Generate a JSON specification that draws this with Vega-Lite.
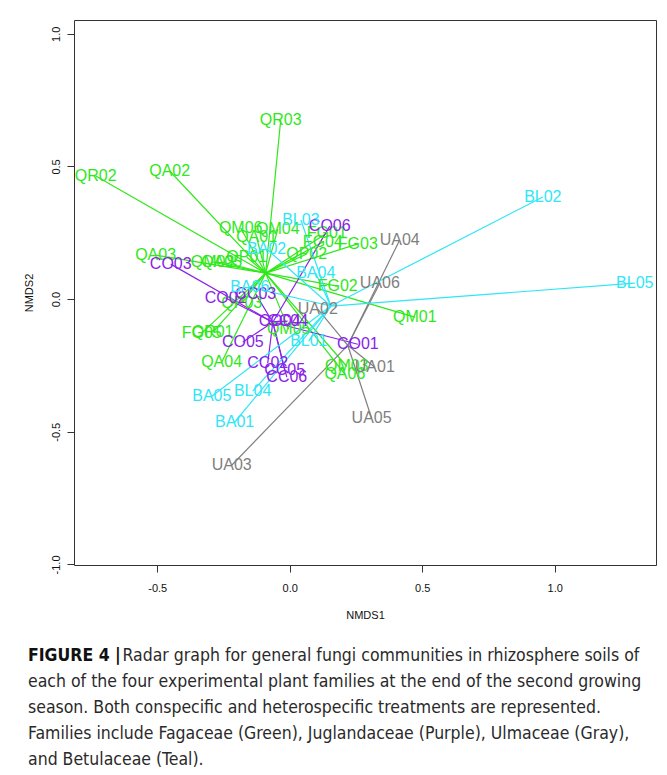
{
  "$schema": "https://vega.github.io/schema/vega-lite/v6.json",
  "width": 582,
  "height": 545,
  "autosize": {"type": "none"},
  "padding": {"left": 74, "top": 20, "right": 11, "bottom": 210},
  "background": "white",
  "config": {
    "view": {"stroke": "#333333", "strokeWidth": 1},
    "font": "Liberation Sans"
  },
  "data": {
    "values": [
      {"label": "QR03", "family": "Fagaceae", "x": -0.034, "y": 0.675, "cx": -0.091, "cy": 0.098},
      {"label": "QA02", "family": "Fagaceae", "x": -0.453, "y": 0.483, "cx": -0.091, "cy": 0.098},
      {"label": "QR02", "family": "Fagaceae", "x": -0.732, "y": 0.464, "cx": -0.091, "cy": 0.098},
      {"label": "QM06", "family": "Fagaceae", "x": -0.185, "y": 0.268, "cx": -0.091, "cy": 0.098},
      {"label": "QM04", "family": "Fagaceae", "x": -0.045, "y": 0.264, "cx": -0.091, "cy": 0.098},
      {"label": "QA01", "family": "Fagaceae", "x": -0.125, "y": 0.234, "cx": -0.091, "cy": 0.098},
      {"label": "QA03", "family": "Fagaceae", "x": -0.506, "y": 0.166, "cx": -0.091, "cy": 0.098},
      {"label": "QM02", "family": "Fagaceae", "x": -0.291, "y": 0.140, "cx": -0.091, "cy": 0.098},
      {"label": "QA05", "family": "Fagaceae", "x": -0.257, "y": 0.140, "cx": -0.091, "cy": 0.098},
      {"label": "QP01", "family": "Fagaceae", "x": -0.162, "y": 0.158, "cx": -0.091, "cy": 0.098},
      {"label": "QP02", "family": "Fagaceae", "x": 0.064, "y": 0.170, "cx": -0.091, "cy": 0.098},
      {"label": "FG01", "family": "Fagaceae", "x": 0.140, "y": 0.249, "cx": -0.091, "cy": 0.098},
      {"label": "FG04", "family": "Fagaceae", "x": 0.125, "y": 0.215, "cx": -0.091, "cy": 0.098},
      {"label": "FG03", "family": "Fagaceae", "x": 0.257, "y": 0.208, "cx": -0.091, "cy": 0.098},
      {"label": "FG02", "family": "Fagaceae", "x": 0.181, "y": 0.049, "cx": -0.091, "cy": 0.098},
      {"label": "QM01", "family": "Fagaceae", "x": 0.472, "y": -0.068, "cx": -0.091, "cy": 0.098},
      {"label": "QP03", "family": "Fagaceae", "x": -0.181, "y": -0.015, "cx": -0.091, "cy": 0.098},
      {"label": "QM05", "family": "Fagaceae", "x": -0.004, "y": -0.113, "cx": -0.091, "cy": 0.098},
      {"label": "FG05", "family": "Fagaceae", "x": -0.332, "y": -0.128, "cx": -0.091, "cy": 0.098},
      {"label": "QR01", "family": "Fagaceae", "x": -0.291, "y": -0.125, "cx": -0.091, "cy": 0.098},
      {"label": "QA04", "family": "Fagaceae", "x": -0.257, "y": -0.238, "cx": -0.091, "cy": 0.098},
      {"label": "QM03", "family": "Fagaceae", "x": 0.215, "y": -0.253, "cx": -0.091, "cy": 0.098},
      {"label": "QA06", "family": "Fagaceae", "x": 0.208, "y": -0.283, "cx": -0.091, "cy": 0.098},
      {"label": "CO01", "family": "Juglandaceae", "x": 0.257, "y": -0.170, "cx": -0.064, "cy": -0.087},
      {"label": "CO02", "family": "Juglandaceae", "x": -0.242, "y": 0.004, "cx": -0.064, "cy": -0.087},
      {"label": "CO03", "family": "Juglandaceae", "x": -0.449, "y": 0.132, "cx": -0.064, "cy": -0.087},
      {"label": "CC03", "family": "Juglandaceae", "x": -0.128, "y": 0.019, "cx": -0.064, "cy": -0.087},
      {"label": "CO04", "family": "Juglandaceae", "x": -0.038, "y": -0.083, "cx": -0.064, "cy": -0.087},
      {"label": "CC04", "family": "Juglandaceae", "x": -0.008, "y": -0.083, "cx": -0.064, "cy": -0.087},
      {"label": "CO05", "family": "Juglandaceae", "x": -0.177, "y": -0.162, "cx": -0.064, "cy": -0.087},
      {"label": "CO06", "family": "Juglandaceae", "x": 0.151, "y": 0.275, "cx": -0.064, "cy": -0.087},
      {"label": "CC02", "family": "Juglandaceae", "x": -0.083, "y": -0.242, "cx": -0.064, "cy": -0.087},
      {"label": "CC05", "family": "Juglandaceae", "x": -0.019, "y": -0.268, "cx": -0.064, "cy": -0.087},
      {"label": "CC06", "family": "Juglandaceae", "x": -0.011, "y": -0.294, "cx": -0.064, "cy": -0.087},
      {"label": "UA01", "family": "Ulmaceae", "x": 0.321, "y": -0.257, "cx": 0.219, "cy": -0.174},
      {"label": "UA02", "family": "Ulmaceae", "x": 0.106, "y": -0.038, "cx": 0.219, "cy": -0.174},
      {"label": "UA03", "family": "Ulmaceae", "x": -0.219, "y": -0.626, "cx": 0.219, "cy": -0.174},
      {"label": "UA04", "family": "Ulmaceae", "x": 0.415, "y": 0.223, "cx": 0.219, "cy": -0.174},
      {"label": "UA05", "family": "Ulmaceae", "x": 0.309, "y": -0.449, "cx": 0.219, "cy": -0.174},
      {"label": "UA06", "family": "Ulmaceae", "x": 0.340, "y": 0.060, "cx": 0.219, "cy": -0.174},
      {"label": "BA01", "family": "Betulaceae", "x": -0.208, "y": -0.464, "cx": 0.155, "cy": -0.026},
      {"label": "BA02", "family": "Betulaceae", "x": -0.087, "y": 0.189, "cx": 0.155, "cy": -0.026},
      {"label": "BA04", "family": "Betulaceae", "x": 0.098, "y": 0.098, "cx": 0.155, "cy": -0.026},
      {"label": "BA05", "family": "Betulaceae", "x": -0.294, "y": -0.366, "cx": 0.155, "cy": -0.026},
      {"label": "BA06", "family": "Betulaceae", "x": -0.151, "y": 0.045, "cx": 0.155, "cy": -0.026},
      {"label": "BL01", "family": "Betulaceae", "x": 0.072, "y": -0.158, "cx": 0.155, "cy": -0.026},
      {"label": "BL02", "family": "Betulaceae", "x": 0.955, "y": 0.385, "cx": 0.155, "cy": -0.026},
      {"label": "BL03", "family": "Betulaceae", "x": 0.042, "y": 0.298, "cx": 0.155, "cy": -0.026},
      {"label": "BL04", "family": "Betulaceae", "x": -0.140, "y": -0.347, "cx": 0.155, "cy": -0.026},
      {"label": "BL05", "family": "Betulaceae", "x": 1.302, "y": 0.060, "cx": 0.155, "cy": -0.026}
    ]
  },
  "encoding": {
    "x": {
      "field": "x", "type": "quantitative",
      "scale": {"domain": [-0.814, 1.382], "nice": false, "zero": false},
      "axis": {
        "title": "NMDS1", "values": [-0.5, 0, 0.5, 1],
        "labelExpr": "replace(format(datum.value, '.1f'), '\u2212', '-')",
        "grid": false, "domain": false, "tickSize": 7, "tickColor": "#333333",
        "labelFontSize": 11, "labelColor": "#111111", "labelPadding": 10,
        "titleFontSize": 11, "titleFontWeight": "normal", "titleColor": "#111111", "titlePadding": 16
      }
    },
    "y": {
      "field": "y", "type": "quantitative",
      "scale": {"domain": [-1.002, 1.052], "nice": false, "zero": false},
      "axis": {
        "title": "NMDS2", "values": [-1, -0.5, 0, 0.5, 1],
        "labelExpr": "replace(format(datum.value, '.1f'), '\u2212', '-')",
        "labelAngle": 270, "labelAlign": "center", "labelBaseline": "bottom",
        "grid": false, "domain": false, "tickSize": 7, "tickColor": "#333333",
        "labelFontSize": 11, "labelColor": "#111111", "labelPadding": 6,
        "titleFontSize": 11, "titleFontWeight": "normal", "titleColor": "#111111", "titlePadding": 16
      }
    },
    "color": {
      "field": "family", "type": "nominal",
      "scale": {
        "domain": ["Fagaceae", "Juglandaceae", "Ulmaceae", "Betulaceae"],
        "range": ["#2ee81a", "#8a22e8", "#7f7f7f", "#2ee6f5"]
      },
      "legend": null
    }
  },
  "layer": [
    {
      "mark": {"type": "rule", "strokeWidth": 1.2},
      "encoding": {"x2": {"field": "cx"}, "y2": {"field": "cy"}}
    },
    {
      "mark": {"type": "text", "fontSize": 16, "font": "Liberation Sans", "align": "center", "baseline": "middle"},
      "encoding": {"text": {"field": "label"}}
    }
  ],
  "title": {
    "text": "FIGURE 4 |",
    "subtitle": [
      "\u200b\u2003\u2003\u2003\u2003\u2003\u2003Radar graph for general fungi communities in rhizosphere soils of",
      "each of the four experimental plant families at the end of the second growing",
      "season. Both conspecific and heterospecific treatments are represented.",
      "Families include Fagaceae (Green), Juglandaceae (Purple), Ulmaceae (Gray),",
      "and Betulaceae (Teal)."
    ],
    "orient": "bottom",
    "anchor": "start",
    "frame": "group",
    "dx": -46,
    "offset": 27,
    "font": "Liberation Sans Narrow, DejaVu Sans Condensed, sans-serif",
    "fontSize": 17.5,
    "fontWeight": "bold",
    "color": "#111111",
    "subtitleFont": "Liberation Sans Narrow, DejaVu Sans Condensed, sans-serif",
    "subtitleFontSize": 17.5,
    "subtitleColor": "#2a2a2a",
    "subtitleLineHeight": 26,
    "subtitlePadding": -17.5
  }
}
